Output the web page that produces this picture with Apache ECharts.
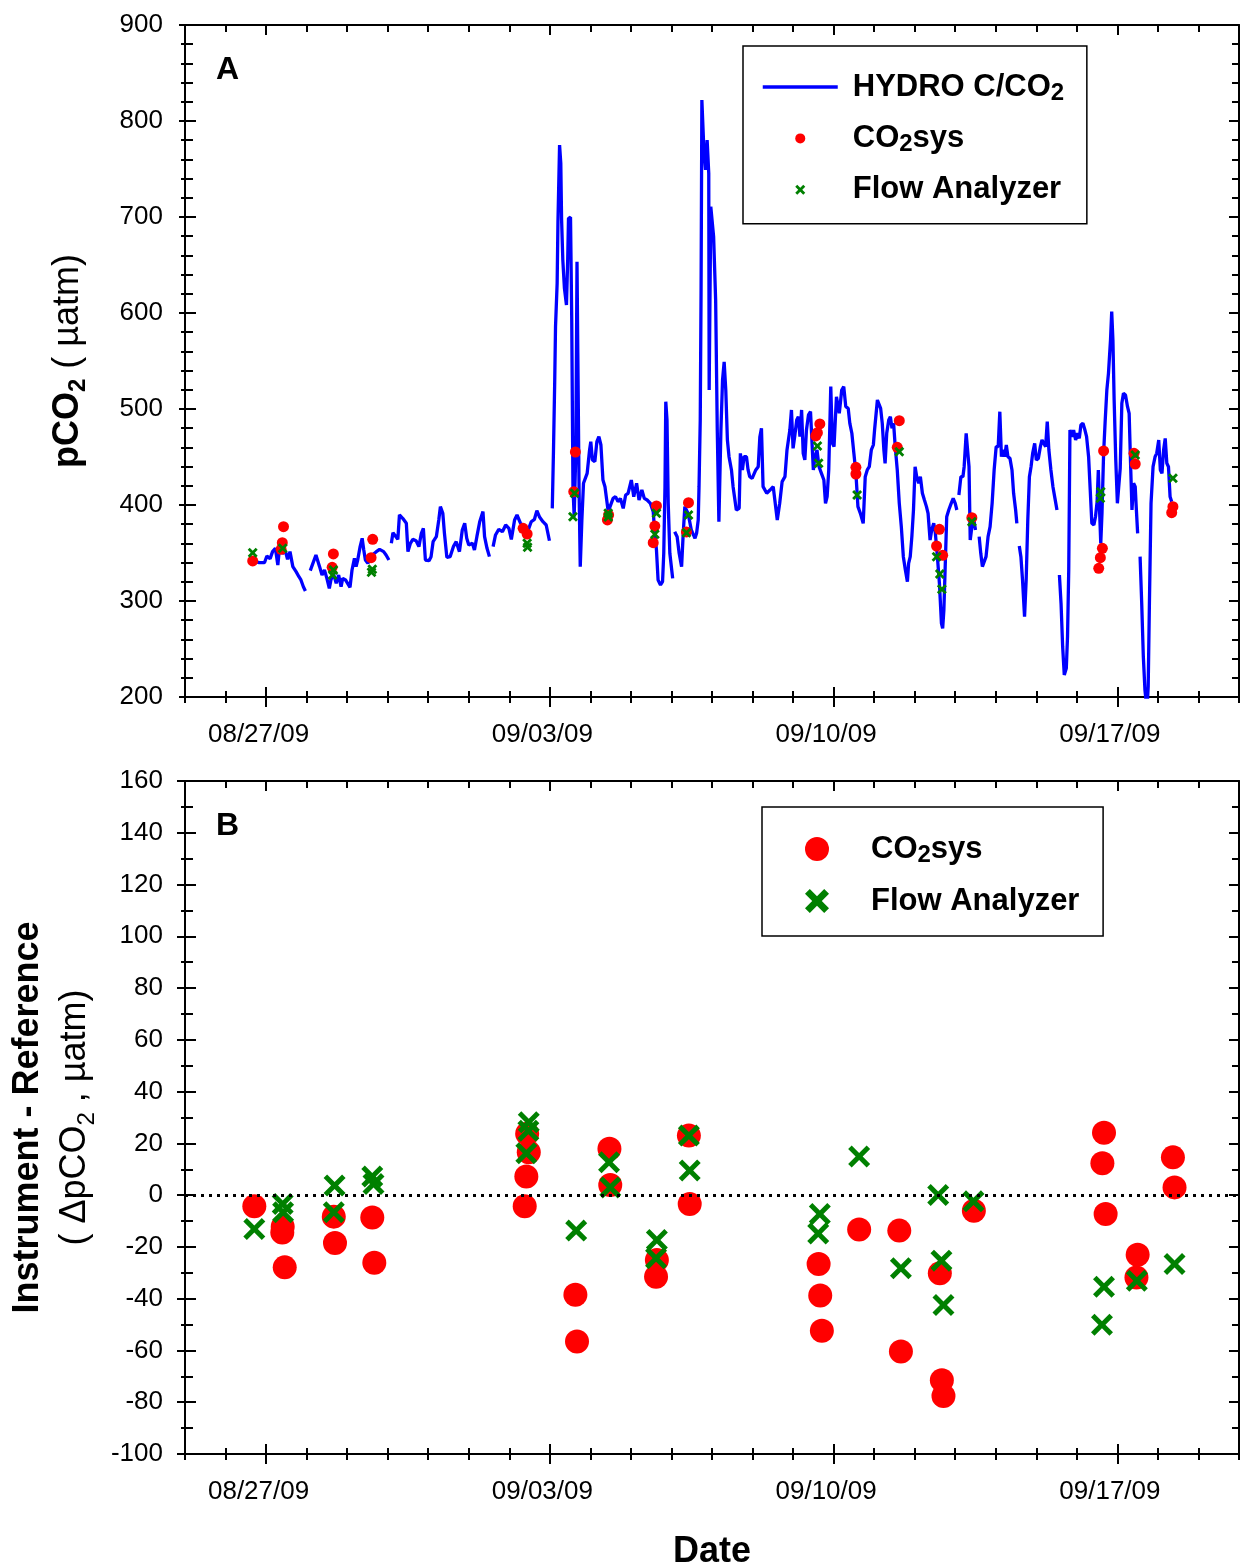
<!DOCTYPE html>
<html><head><meta charset="utf-8">
<script src="https://cdn.jsdelivr.net/npm/echarts@6/dist/echarts.min.js"></script>
<style>html,body{margin:0;padding:0;background:#fff}#c{width:1244px;height:1568px}</style>
</head><body><div id="c"></div>
<script>
const FONT = '"Liberation Sans", Arial, Helvetica, sans-serif';

// x = days since 08/27/09 00:00
const tickDays = [0, 7, 14, 21];
const tickLabels = ['08/27/09', '09/03/09', '09/10/09', '09/17/09'];
const dayTicks = [-2,-1,0,1,2,3,4,5,6,7,8,9,10,11,12,13,14,15,16,17,18,19,20,21,22,23,24];

// Panel A: HYDRO C/CO2 time series [day, pCO2]; null = gap in record
const hydroSeries = [
[-0.31,341.7],[-0.17,339.9],[-0.04,339.9],[0.02,346.9],[0.10,344.1],[0.16,351.4],[0.23,354.9],[0.29,337.5],[0.33,354.9],[0.41,349.7],[0.48,351.4],[0.53,343.4],[0.59,351.4],[0.66,335.8],[0.74,330.6],[0.81,325.3],[0.86,321.9],[0.92,314.9],[0.97,310.4],
[1.03,null],
[1.09,331.6],[1.23,347.9],[1.32,335.8],[1.38,327.1],[1.44,332.3],[1.50,323.6],[1.56,313.2],[1.60,321.9],[1.66,328.8],[1.73,318.4],[1.79,327.1],[1.85,314.9],[1.89,323.6],[1.96,321.9],[2.07,314.2],[2.12,332.3],[2.18,344.4],[2.22,335.8],[2.26,342.7],[2.32,356.6],[2.37,365.3],[2.41,353.1],[2.45,342.7],[2.51,339.2],[2.59,346.9],[2.72,351.4],[2.80,353.8],[2.90,351.4],[2.96,347.9],[3.03,342.7],
[3.06,null],
[3.09,360.1],[3.13,371.2],[3.19,367.7],[3.25,364.2],[3.29,389.6],[3.37,386.1],[3.46,380.9],[3.50,351.4],[3.56,360.1],[3.62,364.2],[3.70,362.8],[3.77,356.6],[3.83,370.5],[3.88,375.7],[3.93,342.7],[4.02,342.0],[4.07,346.2],[4.12,361.8],[4.20,367.0],[4.26,384.4],[4.30,398.3],[4.36,391.3],[4.40,370.5],[4.46,345.5],[4.54,346.2],[4.62,356.6],[4.69,361.8],[4.77,351.4],[4.84,374.0],[4.90,380.9],[4.95,365.3],[5.00,358.3],[5.09,360.1],[5.14,353.1],[5.20,367.0],[5.27,382.6],[5.35,393.1],[5.39,367.0],[5.45,354.9],[5.51,346.2],
[5.55,null],
[5.60,356.6],[5.66,368.8],[5.74,374.7],[5.83,372.2],[5.91,379.2],[5.99,375.7],[6.05,364.2],[6.13,384.4],[6.19,389.6],[6.27,381.6],[6.35,377.4],[6.45,372.0],[6.54,382.6],[6.62,385.1],[6.68,394.1],[6.75,387.2],[6.83,382.6],[6.91,379.2],[6.99,362.8],
[7.02,null],
[7.06,396.5],[7.09,457.3],[7.12,528.5],[7.14,585.8],[7.18,630.9],[7.20,695.1],[7.24,775],[7.27,755.9],[7.29,696.9],[7.32,655.2],[7.36,625.7],[7.41,608.3],[7.44,655.2],[7.46,698.6],[7.51,699.7],[7.54,592.7],[7.57,419.1],[7.60,387.8],[7.64,453.8],[7.67,653.5],[7.69,558],[7.72,419.1],[7.75,335.8],[7.79,384.4],[7.83,422.6],[7.87,420.8],[7.92,433],[7.98,457.3],[8.01,466],[8.05,446.9],[8.11,445.1],[8.16,466],[8.21,471.2],[8.26,462.5],[8.31,426],[8.36,419.1],[8.44,393.1],[8.56,406.9],[8.62,408.7],[8.68,403.5],[8.74,406.9],[8.81,396.5],[8.87,410.4],[8.93,412.2],[9.01,426],[9.07,408.7],[9.14,422.6],[9.20,405.2],[9.27,415.6],[9.33,406.9],[9.40,405.2],[9.48,401.7],[9.55,393.1],[9.59,370.5],[9.63,353.1],[9.67,321.9],[9.73,316.7],[9.78,320.1],[9.81,349.7],[9.84,419.1],[9.86,507.6],[9.89,488.5],[9.92,401.7],[9.96,349.7],[10.03,323.6],
[10.05,null],
[10.08,372.2],[10.14,367],[10.19,349.7],[10.25,335.8],[10.29,370.5],[10.33,398.3],[10.41,391.3],[10.49,374],[10.58,365.3],[10.62,370.5],[10.66,384.4],[10.68,419.1],[10.71,488.5],[10.73,620],[10.75,821.9],[10.80,769.8],[10.84,749],[10.88,780.2],[10.92,745.5],[10.93,519.8],[10.97,710.7],[11.01,712.5],[11.04,679.5],[11.09,613.5],[11.13,478.1],[11.17,382.6],[11.22,478.1],[11.26,530.2],[11.30,549],[11.34,519.8],[11.38,467.7],[11.42,450.3],[11.48,436.5],[11.52,419.1],[11.60,394.8],[11.67,396.6],[11.70,453.8],[11.75,436.5],[11.79,450.3],[11.85,450.3],[11.89,436.5],[11.93,429.5],[11.99,427.8],[12.08,436.5],[12.14,439.9],[12.18,470.8],[12.22,479.9],[12.26,419.1],[12.35,412.2],[12.43,415.6],[12.51,419.1],[12.61,384.4],[12.67,401.8],[12.73,424.3],[12.80,429.5],[12.85,457.3],[12.92,478.1],[12.96,499],[13.00,459],[13.04,471.2],[13.09,488.5],[13.13,492],[13.17,471.2],[13.21,499],[13.25,453.8],[13.29,446.9],[13.33,478.1],[13.38,493.8],[13.43,497.2],[13.47,495.5],[13.50,436.5],[13.54,450.3],[13.59,457.3],[13.64,439.9],[13.70,433],[13.76,426],[13.80,401.7],[13.84,408.7],[13.88,436.5],[13.93,523.3],[13.97,464.2],[14.01,460.8],[14.07,512.8],[14.14,495.5],[14.20,519.8],[14.25,523.3],[14.30,502.4],[14.36,500.7],[14.40,485.1],[14.45,474.7],[14.50,453.8],[14.55,433],[14.60,398.3],[14.66,391.3],[14.73,380.9],[14.78,429.5],[14.83,436.5],[14.88,439.9],[14.93,457.3],[14.98,462.5],[15.01,478.1],[15.08,509.4],[15.12,509.4],[15.16,500.7],[15.20,485.1],[15.24,457.3],[15.27,443.4],[15.31,474.7],[15.36,488.5],[15.40,492],[15.44,479.9],[15.48,485.1],[15.52,460.8],[15.57,436.5],[15.62,401.7],[15.67,377.4],[15.72,346.2],[15.77,332.3],[15.82,320.1],[15.85,339.2],[15.89,346.2],[15.93,367],[15.97,394.8],[16.01,439.9],[16.05,429.5],[16.10,422.6],[16.14,429.5],[16.19,412.2],[16.24,405.2],[16.29,398.3],[16.33,391.3],[16.38,363.5],[16.42,374],[16.47,380.9],[16.51,370.5],[16.56,346.2],[16.61,318.4],[16.66,276.7],[16.69,271.5],[16.72,290.6],[16.76,346.2],[16.79,387.8],[16.84,394.8],[16.90,401.7],[16.95,406.9],[17.00,401.7],[17.04,394.8],
[17.06,null],
[17.09,410.4],[17.14,429.5],[17.19,429.5],[17.22,439.9],[17.27,474.7],[17.31,474.7],[17.34,439.9],[17.37,363.5],[17.41,377.4],[17.46,384.4],[17.50,374],
[17.55,null],
[17.59,367],[17.63,349.7],[17.67,335.8],[17.71,335.8],[17.76,346.2],[17.81,367],[17.86,377.4],[17.91,401.7],[17.96,436.5],[18.01,460.8],[18.06,460.8],[18.10,497.2],[18.14,450.3],[18.18,457.3],[18.22,450.3],[18.26,462.5],[18.30,450.3],[18.35,448.6],[18.40,436.5],[18.44,412.2],[18.49,394.8],[18.52,380.9],
[18.55,null],
[18.58,357.3],[18.62,346.2],[18.66,321.9],[18.71,283.7],[18.75,321.9],[18.79,384.4],[18.83,429.5],[18.87,439.9],[18.91,453.8],[18.96,464.2],[19.00,446.9],[19.05,448.6],[19.10,460.8],[19.14,467.7],[19.18,469.4],[19.23,460.8],[19.27,486.8],[19.31,457.3],[19.36,436.5],[19.41,419.1],[19.46,406.9],[19.51,394.8],
[19.54,null],
[19.57,327.1],[19.61,297.6],[19.65,252.4],[19.69,222.9],[19.74,229.9],[19.77,262.8],[19.80,332.3],[19.83,478.1],[19.88,471.2],[19.92,478.1],[19.97,467.7],[20.02,474.7],[20.06,469.4],[20.10,483.3],[20.15,485.1],[20.20,478.1],[20.24,471.2],[20.29,450.3],[20.33,415.6],[20.37,380.9],[20.42,379.2],[20.46,387.8],[20.50,403.5],[20.53,436.5],[20.56,394.8],[20.59,360],[20.62,391.3],[20.66,453.8],[20.70,488.5],[20.74,519.8],[20.78,537.2],[20.83,571.9],[20.86,601.4],[20.89,571.9],[20.92,509.4],[20.96,446.9],[21.00,401.8],[21.07,438.2],[21.11,505.9],[21.15,516.3],[21.20,514.6],[21.25,502.4],[21.29,495.5],[21.33,436.5],[21.36,394.8],[21.40,422.6],[21.44,419.1],[21.46,401.7],[21.50,370.5],
[21.53,null],
[21.56,346.2],[21.60,297.6],[21.64,242],[21.68,207.3],[21.73,186.5],[21.76,210.8],[21.79,297.6],[21.83,401.7],[21.88,439.9],[21.93,450.3],[21.97,453.8],[22.02,467.7],[22.06,436.5],[22.10,433],[22.14,457.3],[22.18,469.4],[22.22,443.4],[22.26,439.9],[22.30,408.7],[22.34,403.5]
];

// Panel A discrete samples [day, pCO2]
const co2sysA = [
[-0.33,341.7],[0.43,377.4],[0.40,360.7],[0.37,353.8],[1.66,349],[1.63,335.1],[2.63,364.3],[2.59,345.1],
[6.34,375.7],[6.44,369.8],[7.59,413.9],[7.63,455.2],[8.42,384.4],[8.45,389.6],[9.63,399],[9.59,378.1],[9.55,360.7],
[10.42,402.4],[10.37,371.9],[13.66,484.4],[13.60,475.3],[13.56,471.9],[14.55,439.3],[14.55,432.3],[15.62,487.8],[15.57,460.1],
[16.61,374.7],[16.54,357.3],[16.69,347.6],[17.41,386.8],[20.66,456.3],[20.63,354.9],[20.58,345.1],[20.54,334.0],
[21.41,453.8],[21.44,442.7],[22.37,398.2],[22.34,392]
];
const flowA = [
[-0.33,350.3],[0.41,354.9],[1.66,332.3],[1.64,327],[2.62,333],[2.60,330],[6.44,360.1],[6.45,356],
[7.61,412.2],[7.57,387.8],[8.44,391.4],[8.44,387.5],[9.63,391.4],[9.59,369.5],[10.42,389.6],[10.37,371.1],
[13.60,461.5],[13.63,443.4],[14.58,410.4],[15.62,455.5],[16.54,346.1],[16.62,328.1],[16.67,312.2],[17.41,382.6],
[20.59,413.9],[20.58,407],[21.44,452.1],[22.37,427.8]
];

// Panel B: instrument - reference [day, delta pCO2]
const co2sysB = [
[-0.29,-4.3],[0.41,-12.2],[0.40,-14.4],[0.46,-27.9],[1.67,-8.3],[1.70,-18.5],[2.62,-8.6],[2.67,-26.1],
[6.44,23.7],[6.48,16.6],[6.42,7.2],[6.38,-4.3],[7.63,-38.5],[7.67,-56.5],[8.47,17.9],[8.49,3.9],
[9.64,-25.1],[9.62,-31.5],[10.43,23.0],[10.45,-3.4],[13.63,-26.6],[13.67,-38.8],[13.71,-52.4],[14.63,-13.3],
[15.62,-13.7],[15.66,-60.4],[16.62,-30.2],[16.67,-71.5],[16.71,-77.6],[17.46,-6.0],
[20.67,24.1],[20.63,12.3],[20.71,-7.3],[21.50,-23.0],[21.47,-31.8],[22.37,14.6],[22.41,3.0]
];
const flowB = [
[-0.29,-13.1],[0.41,-3.4],[0.42,-6.6],[1.69,3.7],[1.67,-6.6],[2.62,7.2],[2.65,4.3],
[6.48,28.2],[6.47,24.9],[6.42,16.2],[7.65,-13.7],[8.46,12.7],[8.49,3.0],
[9.64,-17.3],[9.62,-24.4],[10.43,23.0],[10.45,9.5],[13.66,-7.3],[13.62,-14.8],[14.63,14.9],
[15.66,-28.2],[16.58,0.1],[16.66,-25.3],[16.71,-42.4],[17.45,-2.4],
[20.67,-35.4],[20.62,-50.1],[21.48,-33.1],[22.41,-26.6]
];

const CROSS = 'path://M0,2L2,0L5,3L8,0L10,2L7,5L10,8L8,10L5,7L2,10L0,8L3,5Z';
const CROSS_B = 'path://M0,1.6L1.6,0L5,3.4L8.4,0L10,1.6L6.6,5L10,8.4L8.4,10L5,6.6L1.6,10L0,8.4L3.4,5Z';
const BLACK = '#000';
const lineSt = {color: BLACK, width: 2};

function xAxes(g, withName) {
  const base = {gridIndex: g, type: 'value', min: -2, max: 24, splitLine: {show: false}, axisPointer: {show: false}};
  const main = Object.assign({}, base, {
    position: 'bottom',
    axisLine: {show: true, onZero: false, lineStyle: lineSt},
    axisTick: {show: true, customValues: tickDays, length: 10, inside: false, lineStyle: lineSt},
    axisLabel: {show: true, customValues: tickDays, margin: 25, padding: [0, 15, 0, 0],
      fontSize: 26, fontFamily: FONT, color: BLACK,
      formatter: v => { const i = tickDays.indexOf(Math.round(v)); return i >= 0 ? tickLabels[i] : ''; }}
  });
  if (withName) {
    Object.assign(main, {name: 'Date', nameLocation: 'middle', nameGap: 78, nameMoveOverlap: false,
      nameTextStyle: {fontSize: 36, fontWeight: 'bold', fontFamily: FONT, color: BLACK, lineHeight: 40}});
  }
  const mk = (pos, vals, len, inside, showLine) => Object.assign({}, base, {
    position: pos,
    axisLine: {show: showLine, onZero: false, lineStyle: lineSt},
    axisTick: {show: true, customValues: vals, length: len, inside: inside, lineStyle: lineSt},
    axisLabel: {show: false}
  });
  return [main,
    mk('bottom', tickDays, 10, true, false),
    mk('bottom', dayTicks, 6, false, false),
    mk('bottom', dayTicks, 6, true, false),
    mk('top', tickDays, 10, true, true),
    mk('top', dayTicks, 7, true, false)];
}

function yAxes(g, min, max, interval, split, nameCfg, majOut, majIn, minOut, minIn) {
  const base = {gridIndex: g, type: 'value', min: min, max: max, interval: interval,
    splitLine: {show: false}, axisPointer: {show: false}};
  const main = Object.assign({}, base, {
    position: 'left',
    axisLine: {show: true, onZero: false, lineStyle: lineSt},
    axisTick: {show: true, length: majOut, inside: false, lineStyle: lineSt},
    minorTick: {show: true, splitNumber: split, length: minOut, lineStyle: lineSt},
    axisLabel: {show: true, margin: 22, fontSize: 26, fontFamily: FONT, color: BLACK}
  }, nameCfg);
  const inner = Object.assign({}, base, {
    position: 'left',
    axisLine: {show: false, onZero: false},
    axisTick: {show: true, length: majIn, inside: true, lineStyle: lineSt},
    minorTick: {show: true, splitNumber: split, length: minIn, lineStyle: lineSt},
    axisLabel: {show: false}
  });
  const right = Object.assign({}, base, {
    position: 'right',
    axisLine: {show: true, onZero: false, lineStyle: lineSt},
    axisTick: {show: true, length: 10, inside: true, lineStyle: lineSt},
    minorTick: {show: true, splitNumber: split, length: 7, lineStyle: lineSt},
    axisLabel: {show: false}
  });
  return [main, inner, right];
}

const richBase = {
  b: {fontSize: 36, fontWeight: 'bold', fontFamily: FONT, color: BLACK, lineHeight: 40},
  bs: {fontSize: 24, fontWeight: 'bold', fontFamily: FONT, color: BLACK, lineHeight: 10, verticalAlign: 'top', padding: [18, 0, 0, 0]},
  r: {fontSize: 36, fontFamily: FONT, color: BLACK, lineHeight: 47},
  rs: {fontSize: 24, fontFamily: FONT, color: BLACK, lineHeight: 10, verticalAlign: 'top', padding: [23, 0, 0, 0]},
  b2: {fontSize: 36, fontWeight: 'bold', fontFamily: FONT, color: BLACK, lineHeight: 47}
};

const nameA = {name: '{b|pCO}{bs|2}{r2| ( µatm)}', nameLocation: 'middle', nameGap: 97, nameRotate: 90, nameMoveOverlap: false,
  nameTextStyle: {rich: Object.assign({}, richBase, {r2: {fontSize: 36, fontFamily: FONT, color: BLACK, lineHeight: 40}})}};
const nameB = {name: '{b2|Instrument - Reference}\n{r|( ΔpCO}{rs|2}{r| , µatm)}', nameLocation: 'middle', nameGap: 86, nameRotate: 90, nameMoveOverlap: false,
  nameTextStyle: {rich: richBase}};

const legendRich = {
  b: {fontSize: 31, fontWeight: 'bold', fontFamily: FONT, color: BLACK, lineHeight: 44},
  s: {fontSize: 24, fontWeight: 'bold', fontFamily: FONT, color: BLACK, lineHeight: 10, verticalAlign: 'top', padding: [16, 0, 0, 0]},
  e: {fontSize: 24, fontWeight: 'bold', fontFamily: FONT, color: BLACK, lineHeight: 10, verticalAlign: 'top', padding: [16, 0, 0, 0], width: 1}
};
const legendFmt = n => n === 'HYDRO C/CO2' ? '{b|HYDRO C/CO}{s|2}' : n === 'CO2sys' ? '{b|CO}{s|2}{b|sys}' : '{b|' + n + '}{e| }';

const option = {
  animation: false,
  backgroundColor: '#fff',
  grid: [
    {left: 185, top: 25, width: 1054, height: 672, outerBoundsMode: 'none', containLabel: false},
    {left: 185, top: 781, width: 1054, height: 673, outerBoundsMode: 'none', containLabel: false}
  ],
  xAxis: xAxes(0, false).concat(xAxes(1, true)),
  yAxis: yAxes(0, 200, 900, 100, 5, nameA, 6, 11, 4, 8).concat(yAxes(1, -100, 160, 20, 2, nameB, 8, 11, 4, 8)),
  legend: [
    {data: [{name: 'HYDRO C/CO2', itemStyle: {opacity: 0}, lineStyle: {width: 3.5, color: '#0000ff'}}, 'CO2sys', 'Flow Analyzer'],
      orient: 'vertical', left: 743, top: 46,
      padding: [19, 19, 16, 18], itemGap: 11.4, itemWidth: 75, itemHeight: 10,
      borderColor: BLACK, borderWidth: 1.5, selectedMode: false, formatter: legendFmt,
      textStyle: {rich: legendRich, padding: [0, 0, 0, 10]}},
    {data: ['CO2sys', 'Flow Analyzer'], orient: 'vertical', left: 762, top: 807,
      padding: [20, 17, 17, 43], itemGap: 12, itemWidth: 24, itemHeight: 24,
      borderColor: BLACK, borderWidth: 1.5, selectedMode: false, formatter: legendFmt,
      textStyle: {rich: legendRich, padding: [0, 0, 0, 37]}}
  ],
  graphic: [
    {type: 'text', left: 216, top: 54, style: {text: 'A', fontSize: 32, fontWeight: 'bold', fontFamily: FONT, fill: BLACK}},
    {type: 'text', left: 216, top: 810, style: {text: 'B', fontSize: 32, fontWeight: 'bold', fontFamily: FONT, fill: BLACK}}
  ],
  series: [
    {name: 'HYDRO C/CO2', type: 'line', xAxisIndex: 0, yAxisIndex: 0, data: hydroSeries.map(p => [p[0], p[1] === null ? '-' : p[1]]),
      symbol: 'none', showSymbol: false, connectNulls: false, clip: true, lineStyle: {color: '#0000ff', width: 3.3}, itemStyle: {color: '#0000ff'}, z: 2},
    {name: 'CO2sys', type: 'scatter', xAxisIndex: 0, yAxisIndex: 0, data: co2sysA, symbol: 'circle', symbolSize: 11,
      itemStyle: {color: '#ff0000', opacity: 1}, z: 3},
    {name: 'Flow Analyzer', type: 'scatter', xAxisIndex: 0, yAxisIndex: 0, data: flowA, symbol: CROSS, symbolSize: 10, symbolKeepAspect: true,
      itemStyle: {color: '#008000', opacity: 1}, z: 4},
    {name: 'CO2sys', type: 'scatter', xAxisIndex: 6, yAxisIndex: 3, data: co2sysB, symbol: 'circle', symbolSize: 24,
      itemStyle: {color: '#ff0000', opacity: 1}, z: 3,
      markLine: {silent: true, symbol: ['none', 'none'], label: {show: false}, animation: false,
        lineStyle: {color: BLACK, type: [3, 5], width: 3}, emphasis: {disabled: true}, data: [{yAxis: 0}]}},
    {name: 'Flow Analyzer', type: 'scatter', xAxisIndex: 6, yAxisIndex: 3, data: flowB, symbol: CROSS_B, symbolSize: 22, symbolKeepAspect: true,
      itemStyle: {color: '#008000', opacity: 1}, z: 4}
  ]
};

const chart = echarts.init(document.getElementById('c'), null, {renderer: 'canvas'});
chart.setOption(option);
</script>
</body></html>
